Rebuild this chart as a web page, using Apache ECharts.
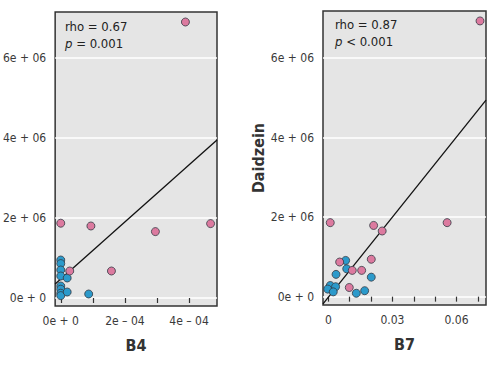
<!DOCTYPE html>
<html>
<head>
<meta charset="utf-8">
<script src="https://cdn.jsdelivr.net/npm/echarts@6/dist/echarts.min.js"></script>
<style>
html,body{margin:0;padding:0;background:#fff;}
#chart{width:503px;height:368px;}
</style>
</head>
<body>
<div id="chart"></div>
<script>
// ---- data ----
var b4Pink = [[3.886e-4, 6.9e6], [0, 1.87e6], [9.4e-5, 1.8e6], [2.95e-4, 1.66e6], [4.67e-4, 1.86e6], [2.8e-5, 0.675e6], [1.58e-4, 0.675e6]];
var b4Blue = [[0, 0.95e6], [0, 0.86e6], [0, 0.7e6], [0, 0.55e6], [0, 0.3e6], [0, 0.22e6], [0, 0.12e6], [0, 0.06e6], [2.0e-5, 0.5e6], [2.0e-5, 0.15e6], [8.7e-5, 0.1e6]];
var b7Pink = [[0.0710, 6.93e6], [0.0009, 1.86e6], [0.0212, 1.79e6], [0.0252, 1.65e6], [0.0556, 1.86e6], [0.0053, 0.87e6], [0.0201, 0.94e6], [0.0112, 0.66e6], [0.0156, 0.66e6], [0.0098, 0.23e6]];
var b7Blue = [[0.0081, 0.91e6], [0.0086, 0.70e6], [0.0036, 0.56e6], [0.0201, 0.49e6], [0.0009, 0.28e6], [0.0034, 0.25e6], [-0.0003, 0.19e6], [0.0023, 0.12e6], [0.0131, 0.085e6], [0.0170, 0.15e6]];
var b4Fit = [[-1.75e-5, 0.35e6], [4.87e-4, 3.95e6]];
var b7Fit = [[-0.0025, -0.18e6], [0.0738, 4.94e6]];

var yTicks = [0, 2e6, 4e6, 6e6];
var yTickLabels = ['0e + 0', '2e + 06', '4e + 06', '6e + 06'];
var b4Ticks = [0, 1e-4, 2e-4, 3e-4, 4e-4];
var b4LabelValues = [0, 2e-4, 4e-4];
var b4LabelTexts = ['0e + 0', '2e \u2013 04', '4e \u2013 04'];
var b7Ticks = [0, 0.01, 0.02, 0.03, 0.04, 0.05, 0.06, 0.07];
var b7LabelValues = [0, 0.03, 0.06];
var b7LabelTexts = ['0', '0.03', '0.06'];
var stats = [['rho = 0.67', '=', '0.001'], ['rho = 0.87', '<', '0.001']];

function lookup(vals, texts) {
  return function (v) {
    for (var i = 0; i < vals.length; i++) {
      if (Math.abs(vals[i] - v) <= Math.abs(vals[vals.length - 1]) * 1e-6 + 1e-12) return texts[i];
    }
    return '';
  };
}

var FONT = "'Liberation Sans Narrow','DejaVu Sans Condensed','Liberation Sans',sans-serif";
var TXT = '#3a3a3a';
var PINK = '#dc7a9f';
var BLUE = '#2c9acb';
var EDGE = '#333a44';

function xAxis(gridIndex, min, max, ticks, lvals, ltexts, name) {
  return {
    type: 'value', gridIndex: gridIndex, min: min, max: max,
    name: name, nameLocation: 'middle', nameGap: 31,
    nameTextStyle: {fontFamily: FONT, fontWeight: 'bold', fontSize: 16, color: '#333'},
    axisLine: {show: false},
    axisTick: {show: true, length: 5, customValues: ticks, lineStyle: {color: '#333', width: 1.2}},
    axisLabel: {customValues: lvals, formatter: lookup(lvals, ltexts), margin: 9,
      fontFamily: FONT, fontSize: 12, color: TXT},
    splitLine: {show: false}
  };
}
function yAxis(gridIndex, min, max, name) {
  return {
    type: 'value', gridIndex: gridIndex, min: min, max: max,
    name: name, nameLocation: 'middle', nameGap: 57, nameRotate: 90,
    nameTextStyle: {fontFamily: FONT, fontWeight: 'bold', fontSize: 16, color: '#333'},
    axisLine: {show: false},
    axisTick: {show: false, customValues: yTicks},
    axisLabel: {customValues: yTicks, formatter: lookup(yTicks, yTickLabels), margin: 9,
      fontFamily: FONT, fontSize: 12, color: TXT},
    splitLine: {show: true, lineStyle: {color: '#ffffff', width: 1.6}}
  };
}
function scatter(idx, data, color) {
  return {type: 'scatter', xAxisIndex: idx, yAxisIndex: idx, data: data, symbolSize: 8,
    itemStyle: {color: color, borderColor: EDGE, borderWidth: 0.8, opacity: 1}, z: 3};
}
function fit(idx, data) {
  return {type: 'line', xAxisIndex: idx, yAxisIndex: idx, data: data, symbol: 'none', clip: true,
    lineStyle: {color: '#111', width: 1.3}, z: 2, silent: true};
}
function statText(left, top, s) {
  return [
    {type: 'text', left: left, top: top, style: {text: s[0], font: '13px ' + FONT, fill: '#222'}},
    {type: 'text', left: left, top: top + 17, style: {
      text: '{i|p} ' + s[1] + ' ' + s[2],
      rich: {i: {fontStyle: 'italic', fontFamily: FONT, fontSize: 13, fill: '#222'}},
      font: '13px ' + FONT, fill: '#222'}}
  ];
}

var chart = echarts.init(document.getElementById('chart'), null, {renderer: 'svg'});
chart.setOption({
  backgroundColor: '#fff',
  animation: false,
  grid: [
    {left: 53, top: 12, width: 164, height: 294, show: true, backgroundColor: '#e5e5e5', borderColor: '#333', borderWidth: 1.5},
    {left: 323, top: 11, width: 163, height: 294, show: true, backgroundColor: '#e5e5e5', borderColor: '#333', borderWidth: 1.5}
  ],
  xAxis: [
    xAxis(0, -1.75e-5, 4.87e-4, b4Ticks, b4LabelValues, b4LabelTexts, 'B4'),
    xAxis(1, -0.0025, 0.0738, b7Ticks, b7LabelValues, b7LabelTexts, 'B7')
  ],
  yAxis: [
    yAxis(0, -0.2e6, 7.15e6, ''),
    yAxis(1, -0.21e6, 7.18e6, 'Daidzein')
  ],
  series: [
    fit(0, b4Fit), scatter(0, b4Blue, BLUE), scatter(0, b4Pink, PINK),
    fit(1, b7Fit), scatter(1, b7Blue, BLUE), scatter(1, b7Pink, PINK)
  ],
  graphic: statText(65, 20, stats[0]).concat(statText(335, 18, stats[1]))
});
</script>
</body>
</html>
